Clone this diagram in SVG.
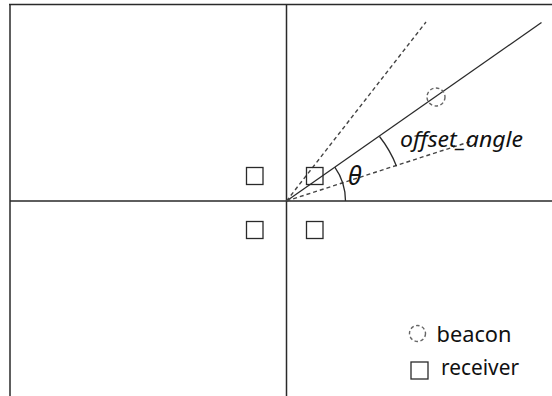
<svg xmlns="http://www.w3.org/2000/svg" width="552" height="396" viewBox="0 0 552 396">
<style>
.ax{stroke:#2a2a2a;stroke-width:1.5;fill:none}
.sol{stroke:#2a2a2a;stroke-width:1.3;fill:none}
.dash{stroke:#444;stroke-width:1.4;stroke-dasharray:4 3;fill:none}
.rx{fill:none;stroke:#2a2a2a;stroke-width:1.3}
.bc{fill:none;stroke:#666;stroke-width:1.4;stroke-dasharray:3.5 2.5}
.t{font-family:"Noto Sans","DejaVu Sans",sans-serif;fill:#111}
</style>
<rect width="552" height="396" fill="#fff"/>
<g id="connectors">
<path class="ax" d="M9 4.5H552M10 4V396M286.5 4V396M10 201H552"/>
<line class="sol" x1="286.5" y1="201" x2="541.5" y2="22.5"/>
<line class="dash" x1="286.5" y1="201" x2="426" y2="22"/>
<line class="dash" x1="286.5" y1="201" x2="472" y2="141"/>
<path class="sol" d="M345.5 201A59 59 0 0 0 334.8 167.2"/>
<path class="sol" d="M379.5 136.5A115 115 0 0 1 396.5 166.2"/>
</g>
<g id="receiver-tl"><rect class="rx" x="246.5" y="167.5" width="16.5" height="17"/></g>
<g id="receiver-tr"><rect class="rx" x="306.5" y="167.5" width="16.5" height="17"/></g>
<g id="receiver-bl"><rect class="rx" x="246.5" y="221.5" width="16.5" height="17"/></g>
<g id="receiver-br"><rect class="rx" x="306.5" y="221.5" width="16.5" height="17"/></g>
<g id="beacon"><circle class="bc" cx="436" cy="97" r="9"/></g>
<g id="labels">
<text class="t" x="400" y="146.5" font-size="21" font-style="italic" textLength="123" lengthAdjust="spacingAndGlyphs">offset_angle</text>
<text class="t" x="348" y="185" font-size="25" font-style="italic">θ</text>
</g>
<g id="legend">
<circle class="bc" cx="417.5" cy="333.5" r="8"/>
<text class="t" x="436.5" y="342" font-size="21" textLength="75" lengthAdjust="spacingAndGlyphs">beacon</text>
<rect class="rx" x="411" y="362" width="17" height="17"/>
<text class="t" x="441" y="375" font-size="21" textLength="78" lengthAdjust="spacingAndGlyphs">receiver</text>
</g>
</svg>
